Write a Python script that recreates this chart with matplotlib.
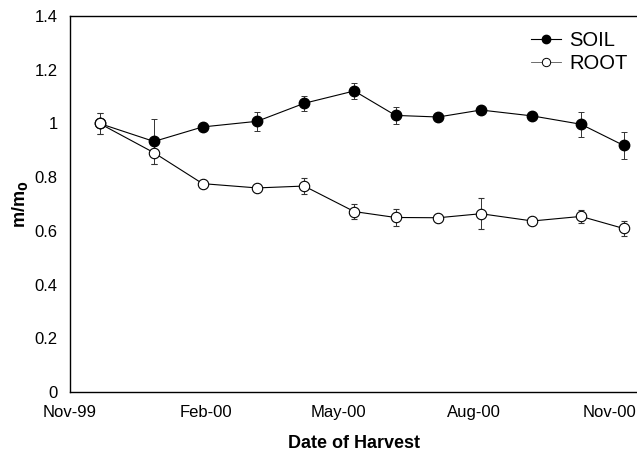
import matplotlib
matplotlib.use('Agg')
import matplotlib.pyplot as plt
import matplotlib.dates as mdates
from matplotlib.lines import Line2D
import pandas as pd

plt.rcParams['font.family'] = ['Liberation Sans', 'DejaVu Sans']

# Harvest dates
dates = pd.to_datetime(['1999-11-21', '1999-12-28', '2000-01-30', '2000-03-07',
                        '2000-04-08', '2000-05-12', '2000-06-09', '2000-07-08',
                        '2000-08-06', '2000-09-10', '2000-10-13', '2000-11-11'])

soil = [1.0, 0.933, 0.987, 1.008, 1.075, 1.121, 1.030, 1.024, 1.050, 1.028, 0.997, 0.918]
soil_err = [0.038, 0.085, 0.0, 0.036, 0.028, 0.031, 0.032, 0.0, 0.0, 0.0, 0.047, 0.051]

root = [1.0, 0.891, 0.776, 0.760, 0.767, 0.672, 0.650, 0.649, 0.664, 0.637, 0.654, 0.609]
root_err = [0.038, 0.042, 0.0, 0.0, 0.030, 0.028, 0.030, 0.0, 0.057, 0.012, 0.025, 0.028]

xticks = pd.to_datetime(['1999-11-01', '2000-02-01', '2000-05-01', '2000-08-01', '2000-11-01'])

fig = plt.figure(figsize=(6.37, 4.57), dpi=100)
ax = fig.add_axes([0.110, 0.142, 0.890, 0.823])

ax.errorbar(dates, soil, yerr=soil_err, fmt='-o', color='black', mfc='black', mec='black',
            ms=7.5, lw=0.8, elinewidth=0.7, ecolor='#333333', capsize=2.5, capthick=0.7,
            zorder=3)
ax.errorbar(dates, root, yerr=root_err, fmt='-o', color='black', mfc='white', mec='black',
            ms=7.5, lw=0.8, mew=0.8, elinewidth=0.7, ecolor='#333333', capsize=2.5, capthick=0.7,
            zorder=3)

ax.set_xlim(pd.Timestamp('1999-11-01'), pd.Timestamp('2000-11-20'))
ax.set_ylim(0, 1.4)
ax.set_yticks([0, 0.2, 0.4, 0.6, 0.8, 1.0, 1.2, 1.4])
ax.set_yticklabels(['0', '0.2', '0.4', '0.6', '0.8', '1', '1.2', '1.4'])
ax.set_xticks(xticks)
ax.xaxis.set_major_formatter(mdates.DateFormatter('%b-%y'))
ax.tick_params(length=0, labelsize=12, pad=9)
ax.tick_params(axis='y', pad=9)

ax.spines['right'].set_visible(False)
for s in ['left', 'top', 'bottom']:
    ax.spines[s].set_linewidth(1.0)

ax.set_xlabel('Date of Harvest', fontsize=13, fontweight='bold', labelpad=11)
ax.set_ylabel('m/m$_\\mathbf{0}$', fontsize=13, fontweight='bold', labelpad=3)

handles = [Line2D([], [], color='black', lw=0.8, marker='o', ms=6, mfc='black', mec='black'),
           Line2D([], [], color='#555555', lw=0.6, marker='o', ms=6, mfc='white', mec='black', mew=0.7)]
ax.legend(handles, ['SOIL', 'ROOT'], loc='upper right', bbox_to_anchor=(1.005, 0.992),
          frameon=False, fontsize=14.5, handlelength=1.5, handletextpad=0.4,
          labelspacing=0.2, borderaxespad=0.2)

fig.savefig('out.png', dpi=100)
